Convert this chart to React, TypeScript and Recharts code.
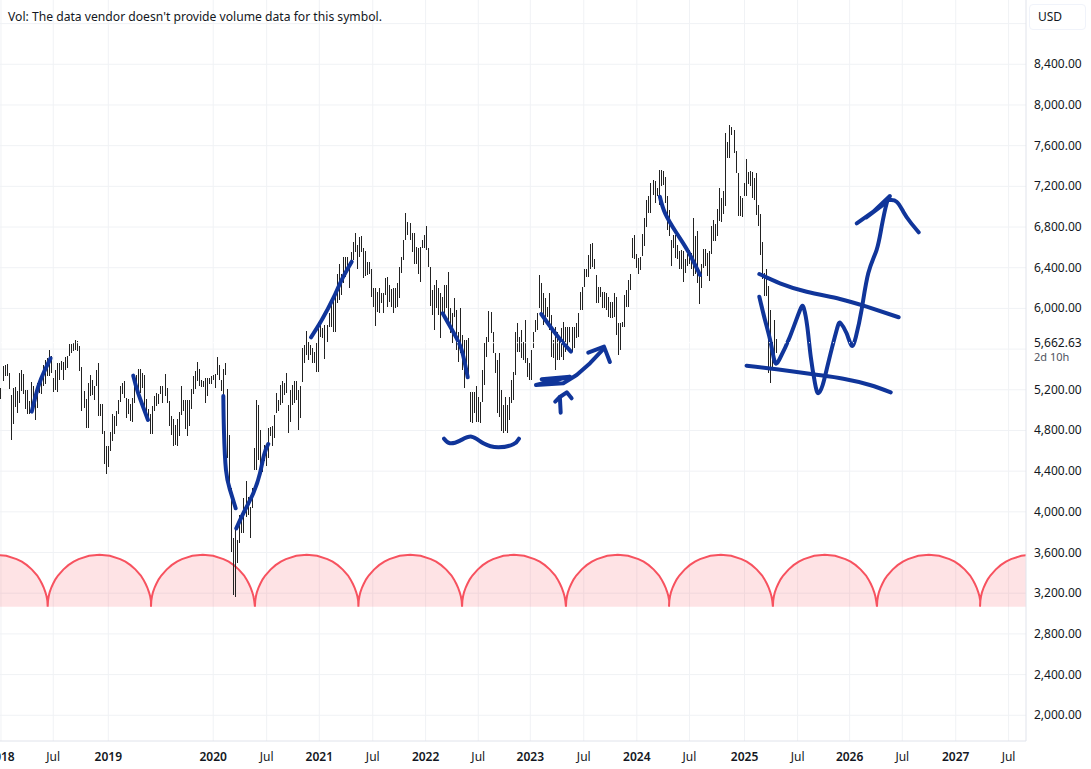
import { Area, Bar, CartesianGrid, ComposedChart, Line, ReferenceLine, XAxis, YAxis } from "recharts";

// weekly bars (first bar early 2018)
const barHighs = [
  5213, 5437, 5447, 5457, 5366, 5145, 5213, 5226, 5187, 5366,
  5392, 5359, 5194, 5194, 5090, 5281, 5236, 5187, 5268, 5301,
  5317, 5447, 5496, 5512, 5593, 5528, 5317, 5398, 5463, 5463,
  5480, 5470, 5522, 5528, 5652, 5652, 5658, 5691, 5675, 5626,
  5424, 5187, 5106, 5262, 5350, 5301, 5236, 5398, 5463, 5057,
  5057, 4794, 4651, 4651, 4781, 4960, 4943, 4992, 5099, 5236,
  5268, 5285, 5122, 5106, 5057, 5122, 5236, 5350, 5405, 5405,
  5366, 5350, 5106, 5008, 4960, 5041, 5138, 5171, 5155, 5236,
  5236, 5359, 5220, 5090, 4943, 4911, 4855, 4911, 4982, 5236,
  5099, 5099, 5099, 5099, 5210, 5340, 5382, 5470, 5405, 5301,
  5285, 5317, 5317, 5317, 5333, 5350, 5359, 5522, 5447, 5301,
  5405, 5463, 5210, 4757, 4232, 3740, 3855, 3724, 3970, 3970,
  4134, 4305, 4150, 4052, 4232, 4626, 5102, 5052, 4806, 4544,
  4659, 4659, 4823, 4833, 4840, 4954, 5167, 5102, 5249, 5282,
  5266, 5364, 5052, 5200, 5249, 5282, 5282, 5200,
  5238, 5608, 5640, 5781, 5673, 5640, 5608, 5575, 5657, 5869,
  5886, 5804, 5837, 5837, 5951, 6098, 6131, 6131, 6343, 6441,
  6343, 6507, 6507, 6507, 6458, 6556, 6654, 6746, 6621, 6703,
  6710, 6589, 6560, 6458, 6458, 6392, 6196, 6196, 6164, 6196,
  6147, 6147, 6294, 6304, 6229, 6186, 6196, 6196, 6245, 6409,
  6507, 6670, 6942, 6850, 6840, 6746, 6746, 6605, 6589, 6605,
  6670, 6719, 6808, 6589, 6409, 6180, 6229, 6278, 6196, 6154,
  6114, 6229, 6229, 6360, 6000, 5951, 6098, 5984, 5771, 6000,
  5738, 5689, 5689, 5706, 5183, 5183, 5183, 5238, 5133, 5084,
  5395, 5657, 5722, 5977, 5967, 5771, 5559, 5493, 5559, 5199,
  5052, 5133, 5052, 5133, 5297, 5379, 5771, 5853, 5722, 5787,
  5673, 5886, 5510, 5460, 5591, 5771, 5886, 5951, 6327, 6245,
  6147, 6098, 6016, 6147, 5935, 5689, 5820, 5771, 5689, 5804,
  5869, 5820, 5820, 5820, 5820, 5820, 5853, 5951, 6164, 6212,
  6392, 6392, 6523, 6638, 6644, 6490, 6327, 6212, 6212, 6164,
  6164, 6147, 6114, 6065, 6065, 6147, 6114, 5853, 5853, 5869,
  6131, 6180, 6278, 6337, 6693, 6726, 6530, 6498, 6510, 6736,
  6889, 7062, 7107, 7231, 7264, 7248, 7182, 7362, 7362, 7352,
  7296, 7107, 6970, 6671, 6726, 6726, 6628, 6563, 6579, 6563,
  6482, 6530, 6579, 6547, 6889, 6716, 6759, 6367, 6433, 6586,
  6586, 6547, 6563, 6808, 6873, 6830, 6977, 7182, 7085, 7150,
  7720, 7639, 7808, 7779, 7753, 7551, 7329, 7101, 7085, 7231,
  7466, 7345, 7352, 7345, 7280, 7329, 7019, 6931, 6654, 6351,
  6390, 6220, 5989, 5673, 5885, 5696,
];
const barLows = [
  5106, 5291, 5333, 5333, 5203, 4709, 4868, 5034, 4976, 5073,
  5187, 5155, 5008, 4966, 4960, 4992, 5067, 4904, 5025, 5171,
  5155, 5236, 5252, 5333, 5333, 5366, 5177, 5197, 5180, 5301,
  5398, 5301, 5398, 5415, 5528, 5561, 5577, 5593, 5577, 5382,
  4992, 5025, 4820, 4820, 5138, 5145, 5099, 5236, 4943, 4943,
  4764, 4472, 4368, 4440, 4602, 4700, 4761, 4846, 4966, 5080,
  5155, 5122, 4927, 4960, 4895, 4885, 5073, 5187, 5203, 5171,
  5220, 5041, 4911, 4911, 4764, 4764, 4992, 5041, 5057, 5155,
  5067, 5138, 5067, 4846, 4755, 4651, 4657, 4651, 4748, 4950,
  4992, 4813, 4748, 4846, 5015, 5155, 5210, 5285, 5236, 5229,
  5229, 5067, 5138, 5252, 5252, 5301, 5220, 5350, 5301, 5187,
  5106, 5350, 4527, 4250, 3609, 3183, 3166, 3494, 3691, 3790,
  3790, 3954, 3970, 3740, 4036, 4413, 4413, 4511, 4413, 4396,
  4495, 4446, 4528, 4741, 4650, 4724, 4970, 4987, 5052, 5069,
  5151, 5167, 4774, 4888, 5052, 5069, 5102, 4806,
  4921, 5281, 5460, 5542, 5493, 5542, 5460, 5460, 5379, 5379,
  5722, 5706, 5500, 5673, 5820, 5820, 5771, 5771, 6049, 6082,
  6131, 6245, 6311, 6376, 6196, 6474, 6474, 6556, 6392, 6507,
  6556, 6294, 6320, 6327, 6337, 6114, 6016, 5827, 5967, 5951,
  6049, 5951, 6131, 6016, 6065, 6016, 5951, 6000, 6016, 6098,
  6350, 6474, 6670, 6719, 6670, 6556, 6441, 6441, 6343, 6262,
  6589, 6589, 6572, 6409, 6023, 5935, 5787, 6000, 5935, 5706,
  5935, 5935, 6000, 5820, 5755, 5657, 5918, 5591, 5477, 5559,
  5395, 5215, 5313, 5330, 4888, 4878, 4970, 4888, 4888, 4878,
  5084, 5248, 5526, 5673, 5755, 5559, 5362, 4970, 4937, 4790,
  4774, 4790, 4774, 4905, 5068, 5101, 5346, 5575, 5575, 5510,
  5493, 5460, 5330, 5297, 5297, 5608, 5771, 5787, 6000, 5935,
  5837, 5918, 5918, 5787, 5526, 5510, 5395, 5493, 5493, 5526,
  5493, 5575, 5640, 5657, 5575, 5608, 5706, 5722, 5984, 5984,
  6212, 6311, 6311, 6392, 6409, 6392, 6056, 6056, 6114, 6000,
  6000, 5984, 5918, 5902, 5902, 5918, 5738, 5542, 5591, 5820,
  5820, 6016, 6016, 6180, 6498, 6482, 6400, 6335, 6380, 6514,
  6612, 6801, 6938, 6938, 7117, 7036, 7101, 7019, 7199, 7215,
  7036, 6775, 6710, 6416, 6596, 6498, 6482, 6384, 6384, 6260,
  6351, 6416, 6433, 6384, 6318, 6335, 6253, 6048, 6204, 6400,
  6416, 6318, 6270, 6530, 6661, 6661, 6710, 6856, 6847, 6931,
  7010, 7476, 7476, 7704, 7525, 7329, 6905, 6905, 6896, 7107,
  7107, 7225, 7199, 7085, 7062, 6922, 6808, 6521, 6286, 6123,
  6123, 5365, 5270, 5396, 5461, 5559,
];

const priceTicks = [2000, 2400, 2800, 3200, 3600, 4000, 4400, 4800, 5200, 5662.63, 6000, 6400, 6800, 7200, 7600, 8000, 8400];
const gridPrices = [2000, 2400, 2800, 3200, 3600, 4000, 4400, 4800, 5200, 5600, 6000, 6400, 6800, 7200, 7600, 8000, 8400, 8800];
const lastPrice = 5662.63;

const timeTicks = [0, 25.8, 53, 104.8, 131.2, 157.2, 183.6, 209.7, 235.7, 261.4, 287.8, 314, 340, 367.2, 393.4, 419.1, 445.1, 471.5, 497.6];
const timeLabels = ["2018", "Jul", "2019", "2020", "Jul", "2021", "Jul", "2022", "Jul", "2023", "Jul", "2024", "Jul", "2025", "Jul", "2026", "Jul", "2027", "Jul"];

// cycle arcs: cusp positions, and one arc as week offset / price
const cycleCusps = [-28.1, 23.06, 74.07, 125.4, 176.5, 227.7, 279, 329.9, 381.2, 432.6, 483.5];
const cycleOffsets = [0, 0.15, 0.5, 1, 1.8, 2.6, 3.8, 5.1, 7.7, 10.2, 12.8, 15.3, 20.4, 25.6, 30.7, 35.8, 38.4, 40.9, 43.4, 46, 47.2, 48.4, 49.2, 50, 50.6, 51];
const cyclePrices = [3068, 3124, 3170, 3211, 3256, 3290, 3336, 3374, 3432, 3476, 3510, 3535, 3568, 3578, 3568, 3535, 3510, 3476, 3432, 3374, 3336, 3290, 3256, 3211, 3170, 3124];
const cycleBase = 3068;

// hand drawn pen strokes as [week, price]
const penCurved = [
  [[15.2, 4985], [18.4, 5230], [21.7, 5395], [24.5, 5510]],
  [[65.3, 5339], [67.7, 5169], [72.6, 4903]],
  [[109.8, 5139], [110.1, 4805], [111.1, 4412], [113.1, 4215], [115.9, 4035]],
  [[116.2, 3838], [120.5, 4018], [124.6, 4182], [127.9, 4379], [129.9, 4559], [132, 4667]],
  [[153.1, 5716], [158.4, 5886], [164.1, 6100], [168.2, 6279], [173.2, 6459]],
  [[218.1, 5952], [223.7, 5755], [227.5, 5591], [230.5, 5323]],
  [[218.8, 4719], [221.7, 4674], [226.7, 4700], [232.4, 4739], [238.2, 4674], [245.6, 4635], [253, 4664], [255.8, 4719]],
  [[266.8, 5945], [274.4, 5739], [281.5, 5575]],
  [[325.4, 7098], [328, 6935], [333.7, 6739], [339.4, 6558], [345.2, 6329]],
  [[374.5, 6338], [384.7, 6247], [397.9, 6164], [414.3, 6093], [427.5, 6017], [443.3, 5913]],
  [[368.2, 5437], [383.1, 5402], [401.1, 5352], [416, 5309], [429.1, 5247], [439.4, 5175]],
  [
    [374.5, 6115], [377.3, 5886], [380.2, 5657], [382.2, 5470], [384.7, 5510], [389.6, 5722], [394.6, 5985], [396.5, 6001],
    [398.2, 5820], [399.9, 5525], [402, 5264], [403.6, 5166], [405.8, 5247], [408.5, 5461], [412.7, 5788], [414.7, 5854],
    [417.6, 5755], [420.1, 5634], [422.2, 5722], [425, 5985], [428.3, 6345], [432.4, 6574], [434.9, 6803], [437.4, 7034],
    [439, 7066], [442.3, 7049], [445.6, 6951], [448.9, 6853], [453.2, 6748],
  ],
];
const penStraight = [
  [[267, 5303], [281, 5329], [264.2, 5247], [277.7, 5264], [284.3, 5345], [290.9, 5461], [297.8, 5608]],
  [[290, 5565], [297.8, 5624], [300.7, 5473]],
  [[276.4, 4975], [276, 5129], [279.4, 5175], [281.8, 5116]],
  [[273.7, 5083], [276, 5129]],
  [[422.6, 6837], [430.8, 6951], [439, 7105], [436.5, 7033], [427.5, 6896]],
];

const barData = barHighs.map((high, i) => ({ week: i, range: [barLows[i], high] }));
const cycleData = cycleCusps.flatMap((cusp) => cycleOffsets.map((off, i) => ({ week: cusp + off, price: cyclePrices[i] })));
const toPoints = (stroke: number[][]) => stroke.map(([week, price]) => ({ week, price }));

const FONT = "'Noto Sans', sans-serif";
const TEXT = "#131722";
const BLUE = "#10359a";

function PriceTick({ x, y, payload }: any) {
  const isLast = payload.value === lastPrice;
  const label = payload.value.toLocaleString("en-US", { minimumFractionDigits: 2, maximumFractionDigits: 2 });
  return (
    <g fontFamily={FONT} fontSize={12} fill={TEXT}>
      <text x={x} y={y} dy={4}>{label}</text>
      {isLast && <text x={x} y={y} dy={18} fontSize={11} fill="#50535e">2d 10h</text>}
    </g>
  );
}

function TimeTick({ x, y, payload }: any) {
  const label = timeLabels[timeTicks.indexOf(payload.value)];
  const isYear = label !== "Jul";
  return (
    <text x={x} y={y} dy={12} textAnchor="middle" fontFamily={FONT} fontSize={12} fontWeight={isYear ? 600 : 400} fill={TEXT}>
      {label}
    </text>
  );
}

// the axis band gets squeezed by the arc points, so keep each bar 1px by hand and on the pixel grid
function PriceBar({ x, y, width, height }: any) {
  return <rect x={Math.round(x + width / 2 - 0.5)} y={y} width={1} height={height} fill="#222222" shapeRendering="crispEdges" />;
}

export default function App() {
  return (
    <div style={{ position: "absolute", left: 0, top: 0, width: 1091, height: 769, background: "#fff", overflow: "hidden" }}>
      <ComposedChart width={1091} height={769} data={barData} margin={{ top: 0, right: 0, bottom: 0, left: 0 }}>
        <CartesianGrid stroke="#f0f2f5" verticalValues={timeTicks} horizontalValues={gridPrices} syncWithTicks={false} />
        <XAxis
          dataKey="week"
          type="number"
          domain={[-0.49, 506.2]}
          allowDataOverflow
          ticks={timeTicks}
          interval={0}
          height={28}
          tickLine={false}
          axisLine={{ stroke: "#e0e3eb" }}
          tick={<TimeTick />}
        />
        <YAxis
          type="number"
          orientation="right"
          domain={[1747, 9032]}
          allowDataOverflow
          ticks={priceTicks}
          interval={0}
          width={65}
          tickSize={0}
          tickMargin={8}
          axisLine={{ stroke: "#e0e3eb" }}
          tick={<PriceTick />}
        />
        <Area
          data={cycleData}
          dataKey="price"
          type="linear"
          baseValue={cycleBase}
          stroke="#f7525f"
          strokeWidth={2}
          fill="#f7525f"
          fillOpacity={0.16}
          dot={false}
          activeDot={false}
          isAnimationActive={false}
        />
        <Bar dataKey="range" shape={<PriceBar />} isAnimationActive={false} />
        {penCurved.map((stroke, i) => (
          <Line key={`c${i}`} data={toPoints(stroke)} dataKey="price" type="natural" stroke={BLUE} strokeWidth={4} strokeLinecap="round" strokeLinejoin="round" dot={false} activeDot={false} isAnimationActive={false} />
        ))}
        {penStraight.map((stroke, i) => (
          <Line key={`s${i}`} data={toPoints(stroke)} dataKey="price" type="linear" stroke={BLUE} strokeWidth={4} strokeLinecap="round" strokeLinejoin="round" dot={false} activeDot={false} isAnimationActive={false} />
        ))}
        <ReferenceLine y={lastPrice} stroke="#ffffff" strokeDasharray="1 3" />
      </ComposedChart>
      <div style={{ position: "absolute", left: 8, top: 8, fontFamily: FONT, fontSize: 12.15, color: TEXT, whiteSpace: "nowrap" }}>
        Vol: The data vendor doesn't provide volume data for this symbol.
      </div>
      <div style={{ position: "absolute", left: 1029, top: 4, width: 57, height: 26, boxSizing: "border-box", border: "1px solid #f0f3fa", borderRadius: 4, fontFamily: FONT, fontSize: 12, color: TEXT, lineHeight: "24px", paddingLeft: 8 }}>
        USD
      </div>
    </div>
  );
}
